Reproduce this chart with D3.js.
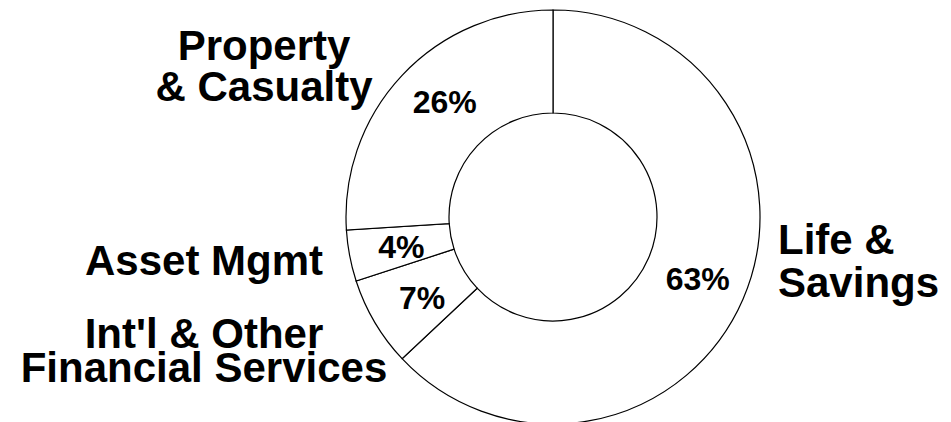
<!DOCTYPE html>
<html>
<head>
<meta charset="utf-8">
<script src="https://cdn.jsdelivr.net/npm/d3@7"></script>
<style>
  body { margin: 0; background: #fff; }
  svg text { font-family: "Liberation Sans", Arial, sans-serif; font-weight: bold; fill: #000; }
</style>
</head>
<body>
<div id="chart"></div>
<script>
// segment names, shares (%) and label lines
var segments = ["Life & Savings", "Int'l & Other Financial Services", "Asset Mgmt", "Property & Casualty"];
var shares = [63, 7, 4, 26];
var labelLines = [["Life &", "Savings"], ["Int'l & Other", "Financial Services"], ["Asset Mgmt"], ["Property", "& Casualty"]];

var width = 951, height = 422;
var svg = d3.select("#chart").append("svg").attr("width", width).attr("height", height);

var cx = 553, cy = 217, outerR = 207, innerR = 104;

var data = segments.map(function(s, i) { return {name: s, value: shares[i], lines: labelLines[i]}; });

var pie = d3.pie().sort(null).value(function(d) { return d.value; });
var arc = d3.arc().innerRadius(innerR).outerRadius(outerR);

var g = svg.append("g").attr("transform", "translate(" + cx + "," + cy + ")");

var arcs = pie(data);

g.selectAll(".slice")
  .data(arcs)
  .enter().append("path")
  .attr("class", "slice")
  .attr("d", arc)
  .attr("fill", "#fff")
  .attr("stroke", "#000")
  .attr("stroke-width", 1.2);

// percent labels near slice centroids (small nudges so they sit like the original)
var pctNudge = [[2, 0], [3, 1], [1, 0], [5, -9]];

g.selectAll(".pct")
  .data(arcs)
  .enter().append("text")
  .attr("class", "pct")
  .attr("transform", function(d, i) {
    var c = arc.centroid(d);
    return "translate(" + (c[0] + pctNudge[i][0]) + "," + (c[1] + pctNudge[i][1]) + ")";
  })
  .attr("text-anchor", "middle")
  .attr("dy", "0.36em")
  .style("font-size", "32px")
  .text(function(d) { return d.data.value + "%"; });

// category labels, placed around the ring
var labelPos = [
  {x: 778, y: 254, gap: 43, anchor: "start"},
  {x: 204, y: 348, gap: 34, anchor: "middle"},
  {x: 204, y: 275, gap: 0, anchor: "middle"},
  {x: 264, y: 60, gap: 41, anchor: "middle"}
];

data.forEach(function(d, i) {
  var p = labelPos[i];
  var t = svg.append("text")
    .attr("class", "cat")
    .attr("text-anchor", p.anchor)
    .style("font-size", "42px");
  d.lines.forEach(function(line, j) {
    t.append("tspan").attr("x", p.x).attr("y", p.y + j * p.gap).text(line);
  });
});
</script>
</body>
</html>
